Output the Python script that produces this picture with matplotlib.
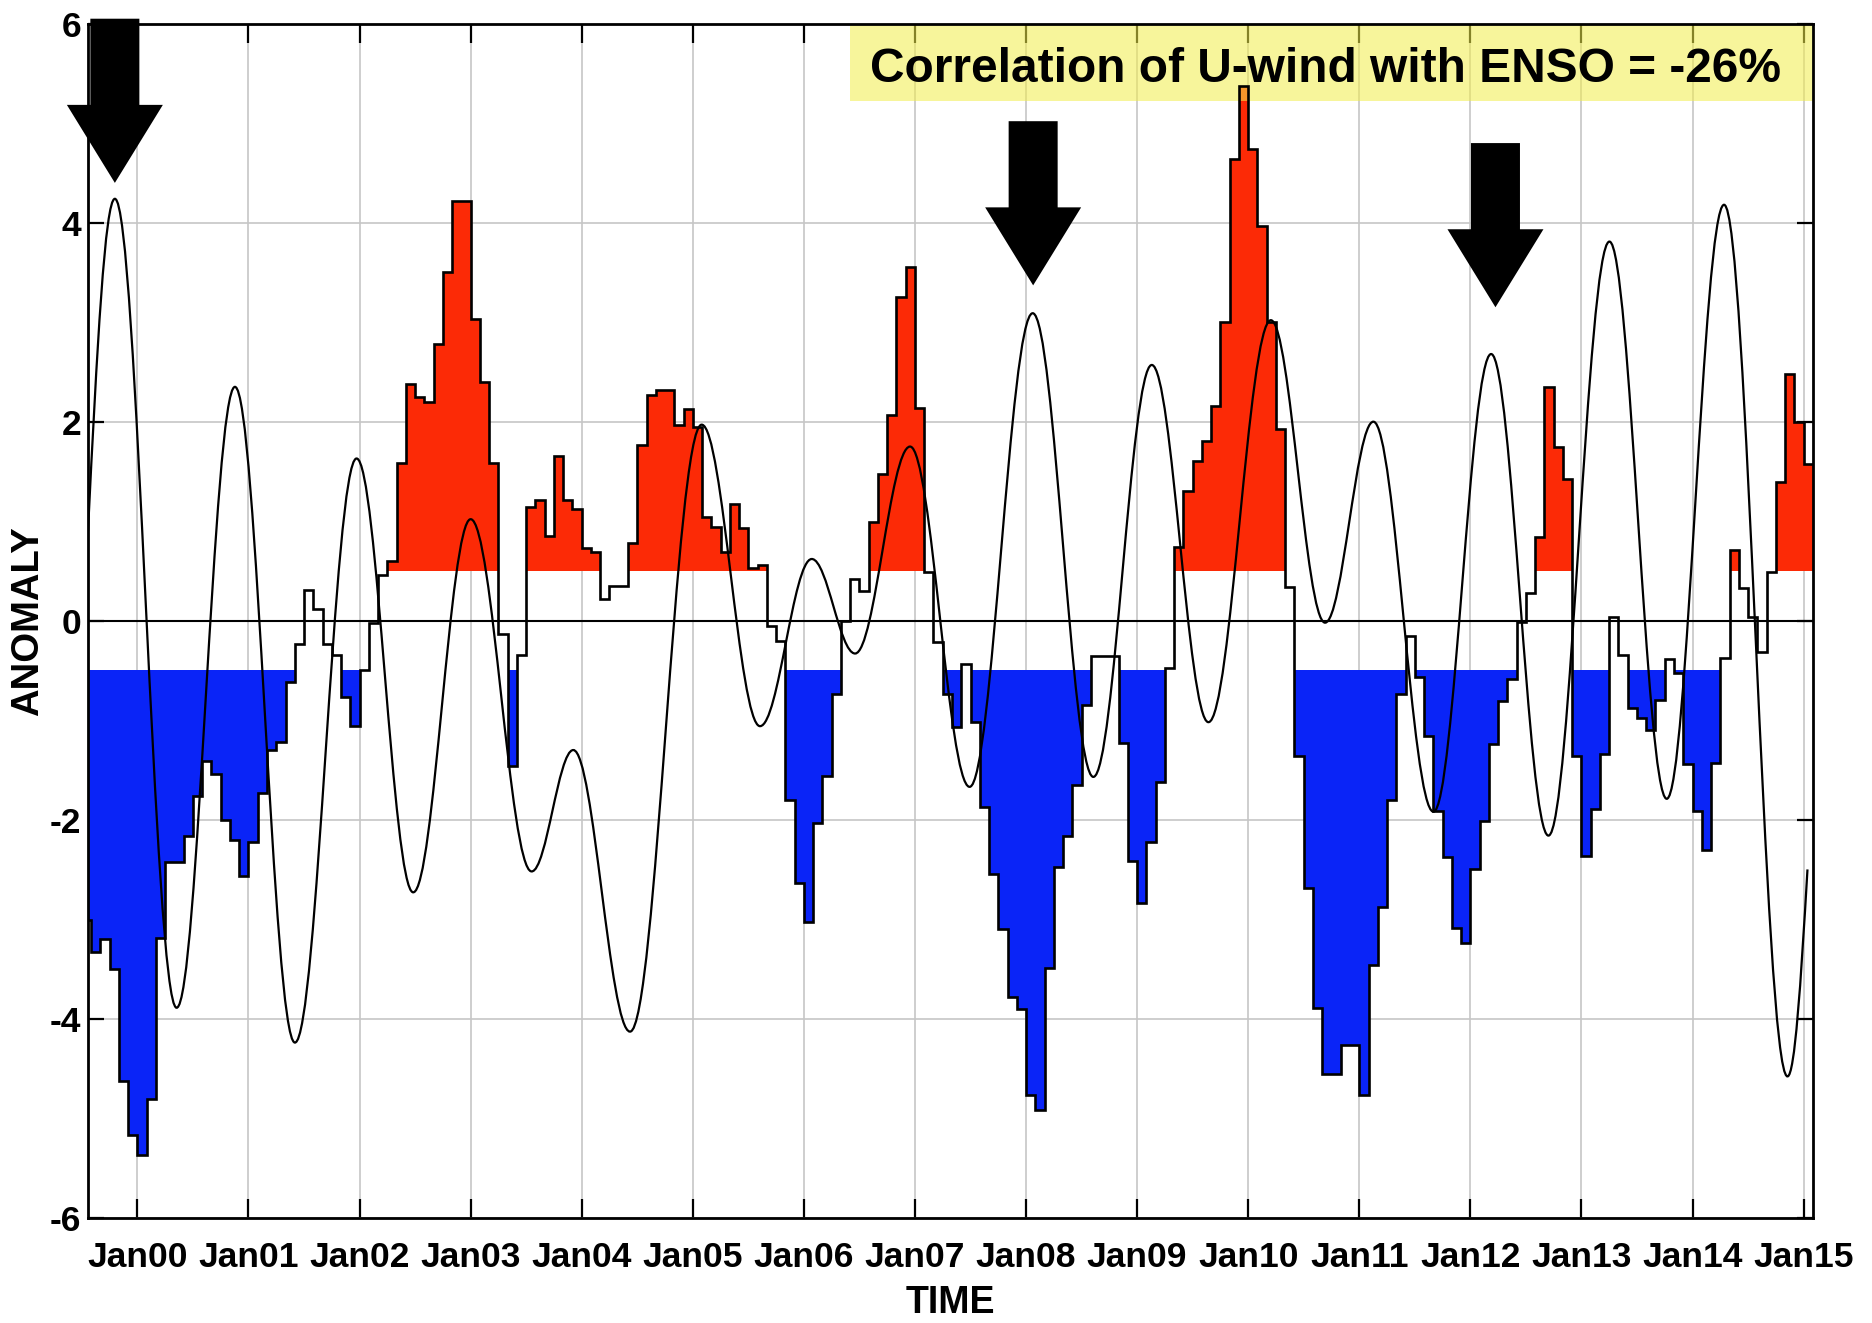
import numpy as np
import matplotlib
matplotlib.use("Agg")
import matplotlib.pyplot as plt
from matplotlib.path import Path
from matplotlib.patches import PathPatch, Polygon, Rectangle

plt.rcParams['axes.unicode_minus'] = False

# Monthly U-wind anomaly, one value per calendar month starting July 1999
series_start = 1999.5
uwind_1999 = [-3.01, -3.33, -3.20, -3.50, -4.63, -5.17]
uwind_2000 = [-5.37, -4.81, -3.19, -2.43, -2.43, -2.16, -1.76, -1.41, -1.54, -2.00, -2.20, -2.57]
uwind_2001 = [-2.22, -1.73, -1.30, -1.22, -0.62, -0.23, 0.31, 0.12, -0.23, -0.34, -0.77, -1.06]
uwind_2002 = [-0.50, -0.02, 0.46, 0.60, 1.58, 2.38, 2.25, 2.20, 2.78, 3.50, 4.22, 4.22]
uwind_2003 = [3.03, 2.40, 1.58, -0.13, -1.46, -0.34, 1.14, 1.21, 0.85, 1.66, 1.21, 1.12]
uwind_2004 = [0.73, 0.69, 0.22, 0.35, 0.35, 0.78, 1.77, 2.27, 2.32, 2.32, 1.97, 2.13]
uwind_2005 = [1.95, 1.04, 0.94, 0.69, 1.17, 0.93, 0.53, 0.56, -0.05, -0.20, -1.80, -2.64]
uwind_2006 = [-3.03, -2.03, -1.56, -0.74, 0.00, 0.42, 0.30, 0.99, 1.47, 2.07, 3.25, 3.55]
uwind_2007 = [2.14, 0.49, -0.21, -0.74, -1.07, -0.44, -1.02, -1.87, -2.55, -3.10, -3.78, -3.90]
uwind_2008 = [-4.77, -4.92, -3.49, -2.48, -2.16, -1.65, -0.85, -0.35, -0.35, -0.35, -1.23, -2.42]
uwind_2009 = [-2.84, -2.22, -1.62, -0.48, 0.74, 1.30, 1.60, 1.81, 2.16, 3.00, 4.64, 5.37]
uwind_2010 = [4.74, 3.97, 3.00, 1.93, 0.34, -1.36, -2.69, -3.89, -4.56, -4.56, -4.26, -4.26]
uwind_2011 = [-4.77, -3.46, -2.88, -1.80, -0.74, -0.15, -0.57, -1.16, -1.91, -2.38, -3.09, -3.24]
uwind_2012 = [-2.50, -2.01, -1.24, -0.81, -0.59, -0.01, 0.28, 0.84, 2.35, 1.75, 1.42, -1.36]
uwind_2013 = [-2.36, -1.89, -1.34, 0.04, -0.34, -0.88, -0.98, -1.10, -0.80, -0.39, -0.53, -1.44]
uwind_2014 = [-1.91, -2.30, -1.43, -0.37, 0.71, 0.33, 0.04, -0.31, 0.49, 1.39, 2.48, 2.00]
uwind_2015 = [1.57]

# ENSO index curve: start point, successive peaks/troughs, end point
enso_t = [1999.555, 1999.797, 2000.353, 2000.878, 2001.418, 2001.973, 2002.483,
          2003.000, 2003.549, 2003.924, 2004.435, 2005.080, 2005.605, 2006.071,
          2006.461, 2006.956, 2007.492, 2008.060, 2008.606, 2009.132, 2009.642,
          2010.204, 2010.692, 2011.127, 2011.668, 2012.187, 2012.703, 2013.252,
          2013.768, 2014.284, 2014.855, 2015.035]
enso_v = [0.90, 4.24, -3.89, 2.35, -4.24, 1.63, -2.73,
          1.02, -2.52, -1.30, -4.13, 1.97, -1.06, 0.62,
          -0.33, 1.75, -1.67, 3.09, -1.57, 2.57, -1.02,
          3.02, -0.02, 2.00, -1.92, 2.68, -2.16, 3.81,
          -1.79, 4.18, -4.58, -2.50]

year_ticks = list(range(2000, 2016))
year_labels = ["Jan00", "Jan01", "Jan02", "Jan03", "Jan04", "Jan05", "Jan06", "Jan07",
               "Jan08", "Jan09", "Jan10", "Jan11", "Jan12", "Jan13", "Jan14", "Jan15"]
y_ticks = [-6, -4, -2, 0, 2, 4, 6]

# Highlighted events (arrow tip positions)
arrow_t = [1999.797, 2008.064, 2012.226]
arrow_v = [4.40, 3.37, 3.15]

note_text = "Correlation of U-wind with ENSO = -26%"
threshold = 0.5

RED = "#fc2a06"
BLUE = "#0a24f7"
TICK_FONT = ["Liberation Sans Narrow", "Liberation Sans", "DejaVu Sans"]
LABEL_FONT = ["Liberation Sans", "DejaVu Sans"]

uwind = np.array(uwind_1999 + uwind_2000 + uwind_2001 + uwind_2002 + uwind_2003 +
                 uwind_2004 + uwind_2005 + uwind_2006 + uwind_2007 + uwind_2008 +
                 uwind_2009 + uwind_2010 + uwind_2011 + uwind_2012 + uwind_2013 +
                 uwind_2014 + uwind_2015)
edges = series_start + np.arange(len(uwind) + 1) / 12.0
ext = np.append(uwind, uwind[-1])

fig = plt.figure(figsize=(18.72, 13.23), dpi=100)
ax = fig.add_axes([0.0470, 0.0796, 0.9215, 0.9025])
ax.set_xlim(1999.555, 2015.085)
ax.set_ylim(-6, 6)

# shaded parts beyond +/- threshold
ax.fill_between(edges, threshold, np.maximum(ext, threshold), step='post',
                color=RED, lw=0, zorder=2)
ax.fill_between(edges, -threshold, np.minimum(ext, -threshold), step='post',
                color=BLUE, lw=0, zorder=2)
ax.axhline(0, color='k', lw=1.5, zorder=2.6)
ax.stairs(uwind, edges, baseline=None, color='k', lw=1.9, zorder=3)

# smooth ENSO curve through its turning points (cubic Bezier segments)
k = 0.3634
verts = [(enso_t[0], enso_v[0])]
codes = [Path.MOVETO]
n = len(enso_t)
for i in range(n - 1):
    t0, v0, t1, v1 = enso_t[i], enso_v[i], enso_t[i + 1], enso_v[i + 1]
    d = t1 - t0
    c1 = (t0 + d / 3, v0 + 0.55 * (v1 - v0)) if i == 0 else (t0 + k * d, v0)
    c2 = (t1 - d / 3, v1 - 0.55 * (v1 - v0)) if i == n - 2 else (t1 - k * d, v1)
    verts += [c1, c2, (t1, v1)]
    codes += [Path.CURVE4] * 3
ax.add_patch(PathPatch(Path(verts, codes), fill=False, ec='k', lw=1.6, zorder=4))

# annotation banner
ax.add_patch(Rectangle((2006.416, 5.22), 2015.085 - 2006.416, 6 - 5.22,
                       facecolor="#f2ee4a", alpha=0.55, lw=0, zorder=2.2))
ax.text(2010.698, 5.414, note_text, ha='center', va='baseline', fontsize=34.5,
        fontweight='bold', family=LABEL_FONT, zorder=7)

# arrows
shaft_hw, head_hw, head_len, total_len = 0.2206, 0.432, 0.784, 1.65
for tt, tv in zip(arrow_t, arrow_v):
    top, neck = tv + total_len, tv + head_len
    pts = [(tt - shaft_hw, top), (tt + shaft_hw, top), (tt + shaft_hw, neck),
           (tt + head_hw, neck), (tt, tv), (tt - head_hw, neck), (tt - shaft_hw, neck)]
    ax.add_patch(Polygon(pts, closed=True, fc='k', ec='none', clip_on=False, zorder=8))

# axes styling
ax.set_xticks(year_ticks)
ax.set_xticklabels(year_labels)
ax.set_yticks(y_ticks)
ax.grid(True, color="#c6c6c6", lw=1.2)
ax.set_axisbelow(True)
ax.tick_params(axis='both', direction='in', top=True, right=True, width=1.6, colors='k')
ax.tick_params(axis='x', length=14, pad=17)
ax.tick_params(axis='y', length=11.5, pad=5)
for lab in ax.get_xticklabels() + ax.get_yticklabels():
    lab.set_fontfamily(TICK_FONT)
    lab.set_fontweight('bold')
    lab.set_fontsize(25.5)
for sp in ax.spines.values():
    sp.set_linewidth(2.0)

ax.set_xlabel("TIME", fontsize=27, fontweight='bold', family=TICK_FONT)
ax.xaxis.set_label_coords(0.5, -0.0715)
ax.xaxis.label.set_va('center')
ax.set_ylabel("ANOMALY", fontsize=27.5, fontweight='bold', family=LABEL_FONT)
ax.yaxis.set_label_coords(-0.0345, 0.5)
ax.yaxis.label.set_va('center')

fig.savefig("out.png", dpi=100, facecolor='white')
